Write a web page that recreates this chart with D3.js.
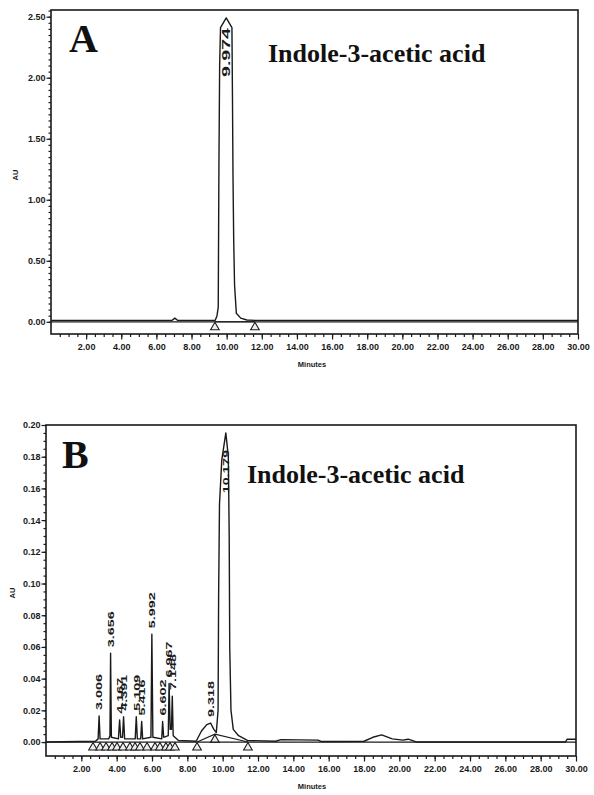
<!DOCTYPE html>
<html>
<head>
<meta charset="utf-8">
<script src="https://cdn.jsdelivr.net/npm/d3@7"></script>
<style>
body { margin: 0; background: #fff; }
svg { display: block; }
.tick text { font-family: "Liberation Sans", Arial, sans-serif; font-weight: bold; font-size: 9px; fill: #1a1a1a; }
.tick line { stroke: #1a1a1a; stroke-width: 1.2; }
.domain { display: none; }
</style>
</head>
<body>
<div id="chart"></div>
<script>
'use strict';

// ticks
const xTicks = [2, 4, 6, 8, 10, 12, 14, 16, 18, 20, 22, 24, 26, 28, 30];
const yTicksA = [0, 0.5, 1.0, 1.5, 2.0, 2.5];
const yTicksB = [0, 0.02, 0.04, 0.06, 0.08, 0.10, 0.12, 0.14, 0.16, 0.18, 0.20];

// panel A trace (minutes, AU)
const traceA = [[0, 0.012], [6.9, 0.012], [7.05, 0.03], [7.2, 0.012], [9.35, 0.012], [9.45, 0.05],
    [9.52, 0.12], [9.56, 1.3], [9.6, 2.1], [9.65, 2.41], [9.974, 2.49], [10.3, 2.41], [10.33, 1.85],
    [10.36, 1.2], [10.4, 0.67], [10.45, 0.3], [10.55, 0.07], [10.8, 0.03], [11.15, 0.015],
    [11.6, 0.012], [30, 0.012]];
const peakRtA = [9.974];
const peakAuA = [2.49];
const markerRtA = [9.33, 11.61];
const markerAuA = [0, 0];
const integA = [[9.33, 0], [11.61, 0]];

// panel B trace (minutes, AU)
const traceB = [[0, 0], [2.8, 0.0005], [2.95, 0.002], [3.006, 0.0164], [3.06, 0.002], [3.55, 0.002],
    [3.62, 0.004], [3.656, 0.056], [3.7, 0.003], [4.1, 0.002], [4.167, 0.014], [4.23, 0.003],
    [4.33, 0.003], [4.391, 0.016], [4.45, 0.002], [5.05, 0.002], [5.109, 0.016], [5.17, 0.002],
    [5.36, 0.002], [5.416, 0.013], [5.47, 0.002], [5.94, 0.003], [5.992, 0.068], [6.05, 0.003],
    [6.55, 0.002], [6.602, 0.013], [6.66, 0.003], [6.92, 0.004], [6.967, 0.037], [7.03, 0.008],
    [7.1, 0.008], [7.148, 0.029], [7.2, 0.004], [7.5, 0.001], [8.5, 0.0005], [8.8, 0.007],
    [9.1, 0.011], [9.318, 0.012], [9.5, 0.008], [9.64, 0.006], [9.74, 0.02], [9.77, 0.09],
    [9.82, 0.15], [9.95, 0.178], [10.179, 0.195], [10.32, 0.18], [10.37, 0.13], [10.4, 0.06],
    [10.47, 0.02], [10.6, 0.008], [10.9, 0.004], [11.4, 0.001], [13.0, 0.0005], [13.3, 0.0015],
    [15.4, 0.0012], [15.6, 0.0003], [18.0, 0.0005], [18.5, 0.003], [19.0, 0.0045], [19.6, 0.002],
    [20.2, 0.0012], [20.5, 0.0018], [21.0, 0], [29.4, 0], [29.5, 0.0018], [30, 0.0018]];
const peakRtB = [3.006, 3.656, 4.167, 4.391, 5.109, 5.416, 5.992, 6.602, 6.967, 7.148, 9.318, 10.179];
const peakAuB = [0.0164, 0.056, 0.014, 0.016, 0.016, 0.013, 0.068, 0.013, 0.037, 0.029, 0.012, 0.195];
const markerRtB = [2.66, 3.06, 3.4, 3.74, 4.02, 4.36, 4.75, 5.04, 5.32, 5.72, 6.17, 6.45, 6.79, 7.02, 7.3, 8.55, 9.56, 11.43];
const markerAuB = [0, 0, 0, 0, 0, 0, 0, 0, 0, 0, 0, 0, 0, 0, 0, 0, 0.005, 0];
const integB = [[8.55, 0], [9.56, 0.005], [11.43, 0]];

const ink = '#1a1a1a';

let svg = d3.select('#chart').append('svg')
    .attr('width', 594)
    .attr('height', 795);

let drawPanel = function drawPanel(config) {

    let xScale = d3.scaleLinear().domain([0, 30]).range([config.left, config.right]);
    let yScale = d3.scaleLinear().domain(config.yDomain).range([config.bottom, config.top]);

    let g = svg.append('g').attr('class', 'panel-' + config.name);

    // minor ticks
    g.append('g')
        .attr('transform', 'translate(' + config.left + ',0)')
        .call(d3.axisLeft(yScale).tickValues(d3.range(0, config.yDomain[1], config.yMinor)).tickSize(2.5).tickFormat(''));
    g.append('g')
        .attr('transform', 'translate(0,' + config.bottom + ')')
        .call(d3.axisBottom(xScale).tickValues(d3.range(0.5, 30, 0.5)).tickSize(3).tickFormat(''));

    // major ticks
    g.append('g')
        .attr('transform', 'translate(' + config.left + ',0)')
        .call(d3.axisLeft(yScale).tickValues(config.yTicks).tickSize(4.5).tickPadding(1).tickFormat(d3.format('.2f')));
    g.append('g')
        .attr('transform', 'translate(0,' + config.bottom + ')')
        .call(d3.axisBottom(xScale).tickValues(xTicks).tickSize(5.5).tickPadding(4).tickFormat(d3.format('.2f')));

    // frame
    g.append('rect')
        .attr('x', config.left).attr('y', config.top)
        .attr('width', config.right - config.left).attr('height', config.bottom - config.top)
        .attr('fill', 'none').attr('stroke', ink).attr('stroke-width', 1.6);

    let clipId = 'clip-' + config.name;
    g.append('clipPath').attr('id', clipId).append('rect')
        .attr('x', config.left).attr('y', config.top)
        .attr('width', config.right - config.left).attr('height', config.bottom - config.top);

    let line = d3.line()
        .x(d => xScale(d[0]))
        .y(d => yScale(d[1]));

    let data = g.append('g').attr('clip-path', 'url(#' + clipId + ')');

    // zero line
    data.append('path')
        .datum([[0, 0], [30, 0]])
        .attr('d', line).attr('fill', 'none').attr('stroke', ink).attr('stroke-width', 1.3);

    // integration baselines
    data.append('path')
        .datum(config.integ)
        .attr('d', line).attr('fill', 'none').attr('stroke', ink).attr('stroke-width', 1.1);

    // trace
    data.append('path')
        .datum(config.trace)
        .attr('d', line).attr('fill', 'none').attr('stroke', ink).attr('stroke-width', 1.4)
        .attr('stroke-linejoin', 'round');

    // peak start/end markers
    let tri = d3.symbol().type(d3.symbolTriangle).size(config.triSize);
    data.selectAll('.marker')
        .data(config.markerRt)
        .enter()
        .append('path')
        .attr('class', 'marker')
        .attr('d', tri)
        .attr('transform', (d, i) => 'translate(' + xScale(d) + ',' + (yScale(config.markerAu[i]) + 5.5) + ')')
        .attr('fill', '#eeeeee').attr('stroke', ink).attr('stroke-width', 1.1);

    // retention time labels
    config.peakRt.forEach((rt, i) => {
        let label = rt.toFixed(3);
        let len = label.length * config.charLen;
        let apexY = yScale(config.peakAu[i]);
        let inside = apexY - config.gap - len < config.top + 4;
        let y = inside ? config.top + config.insideTop : apexY - config.gap;
        g.append('text')
            .attr('transform', 'translate(' + xScale(rt) + ',' + y + ') rotate(-90)')
            .attr('text-anchor', inside ? 'end' : 'start')
            .attr('dy', '0.36em')
            .attr('textLength', len)
            .attr('lengthAdjust', 'spacingAndGlyphs')
            .style('font-family', '"Liberation Sans", Arial, sans-serif')
            .style('font-weight', 'bold')
            .style('font-size', config.labelSize + 'px')
            .style('fill', ink)
            .text(label);
    });

    // axis titles
    g.append('text')
        .attr('x', 312).attr('y', config.bottom + 33)
        .attr('text-anchor', 'middle')
        .style('font-family', '"Liberation Sans", Arial, sans-serif')
        .style('font-weight', 'bold').style('font-size', '7.5px').style('fill', ink)
        .text('Minutes');

    g.append('text')
        .attr('transform', 'translate(' + config.auX + ',' + config.auY + ') rotate(-90)')
        .attr('text-anchor', 'middle')
        .style('font-family', '"Liberation Sans", Arial, sans-serif')
        .style('font-weight', 'bold').style('font-size', '7.5px').style('fill', ink)
        .text('AU');

    // panel letter and compound name
    g.append('text')
        .attr('x', config.letterX).attr('y', config.letterY)
        .style('font-family', '"Liberation Serif", "Times New Roman", serif')
        .style('font-weight', 'bold').style('font-size', '40px').style('fill', '#111')
        .text(config.name);

    g.append('text')
        .attr('x', config.titleX).attr('y', config.titleY)
        .style('font-family', '"Liberation Serif", "Times New Roman", serif')
        .style('font-weight', 'bold').style('font-size', '26px').style('fill', '#111')
        .text('Indole-3-acetic acid');
}

drawPanel({
    name: 'A',
    left: 51, right: 578, top: 10, bottom: 334,
    yDomain: [-0.1, 2.555], yTicks: yTicksA, yMinor: 0.05,
    trace: traceA, integ: integA,
    peakRt: peakRtA, peakAu: peakAuA,
    markerRt: markerRtA, markerAu: markerAuA,
    charLen: 9.8, labelSize: 10, gap: 6, insideTop: 18, triSize: 32,
    auX: 18, auY: 175,
    letterX: 69, letterY: 52,
    titleX: 268, titleY: 62
});

drawPanel({
    name: 'B',
    left: 46, right: 576, top: 425, bottom: 756,
    yDomain: [-0.0088, 0.2], yTicks: yTicksB, yMinor: 0.005,
    trace: traceB, integ: integB,
    peakRt: peakRtB, peakAu: peakAuB,
    markerRt: markerRtB, markerAu: markerAuB,
    charLen: 7.2, labelSize: 9, gap: 6, insideTop: 25, triSize: 32,
    auX: 15, auY: 593,
    letterX: 62, letterY: 468,
    titleX: 247, titleY: 483
});

</script>
</body>
</html>
